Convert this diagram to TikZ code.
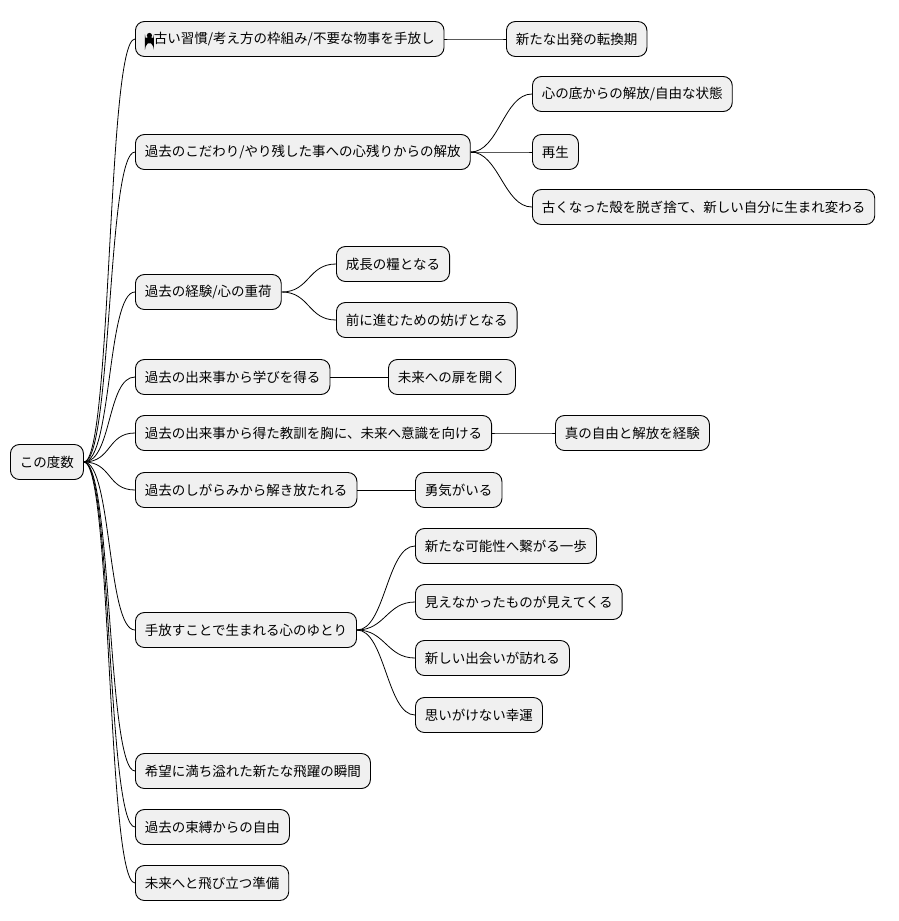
\documentclass[tikz,border=0pt]{standalone}
\usepackage{fontspec}
\setmainfont{Noto Sans CJK JP}
\begin{document}
\begin{tikzpicture}[x=1pt,y=-1pt,
  box/.style={draw,line width=0.9pt,rounded corners=9pt,fill=black!6,anchor=west,
    minimum height=35pt,inner xsep=9.5pt,font=\fontsize{13.5}{16}\selectfont},
  con/.style={line width=0.8pt}]
\useasboundingbox (0,0) rectangle (899,921);
\node[box] (r) at (10,462) {この度数};
\node[box] (a) at (135,39) {\tikz[baseline=0pt,x=1pt,y=1pt]{\fill (4.5,8) circle (2.6); \fill (0,0) rectangle (9,2.5); \fill (0,2.4) arc[start angle=180,end angle=0,radius=4.5];}古い習慣/考え方の枠組み/不要な物事を手放し};
\node[box] (b) at (135,152) {過去のこだわり/やり残した事への心残りからの解放};
\node[box] (c) at (135,292) {過去の経験/心の重荷};
\node[box] (d) at (135,377) {過去の出来事から学びを得る};
\node[box] (e) at (135,433) {過去の出来事から得た教訓を胸に、未来へ意識を向ける};
\node[box] (f) at (135,490) {過去のしがらみから解き放たれる};
\node[box] (g) at (135,630) {手放すことで生まれる心のゆとり};
\node[box] (h) at (135,771) {希望に満ち溢れた新たな飛躍の瞬間};
\node[box] (i) at (135,827) {過去の束縛からの自由};
\node[box] (j) at (135,883) {未来へと飛び立つ準備};
\node[box] (a1) at (506,39) {新たな出発の転換期};
\node[box] (b1) at (532,94) {心の底からの解放/自由な状態};
\node[box] (b2) at (532,152) {再生};
\node[box] (b3) at (532,207) {古くなった殻を脱ぎ捨て、新しい自分に生まれ変わる};
\node[box] (c1) at (336,264) {成長の糧となる};
\node[box] (c2) at (336,320) {前に進むための妨げとなる};
\node[box] (d1) at (388,377) {未来への扉を開く};
\node[box] (e1) at (555,433) {真の自由と解放を経験};
\node[box] (f1) at (415,490) {勇気がいる};
\node[box] (g1) at (415,546) {新たな可能性へ繋がる一歩};
\node[box] (g2) at (415,602) {見えなかったものが見えてくる};
\node[box] (g3) at (415,658) {新しい出会いが訪れる};
\node[box] (g4) at (415,715) {思いがけない幸運};
\foreach \p/\c in {r/a,r/b,r/c,r/d,r/e,r/f,r/g,r/h,r/i,r/j,a/a1,b/b1,b/b2,b/b3,c/c1,c/c2,d/d1,e/e1,f/f1,g/g1,g/g2,g/g3,g/g4}
  \draw[con] (\p.east) .. controls +(28,0) and +(-28,0) .. (\c.west);
\end{tikzpicture}
\end{document}
